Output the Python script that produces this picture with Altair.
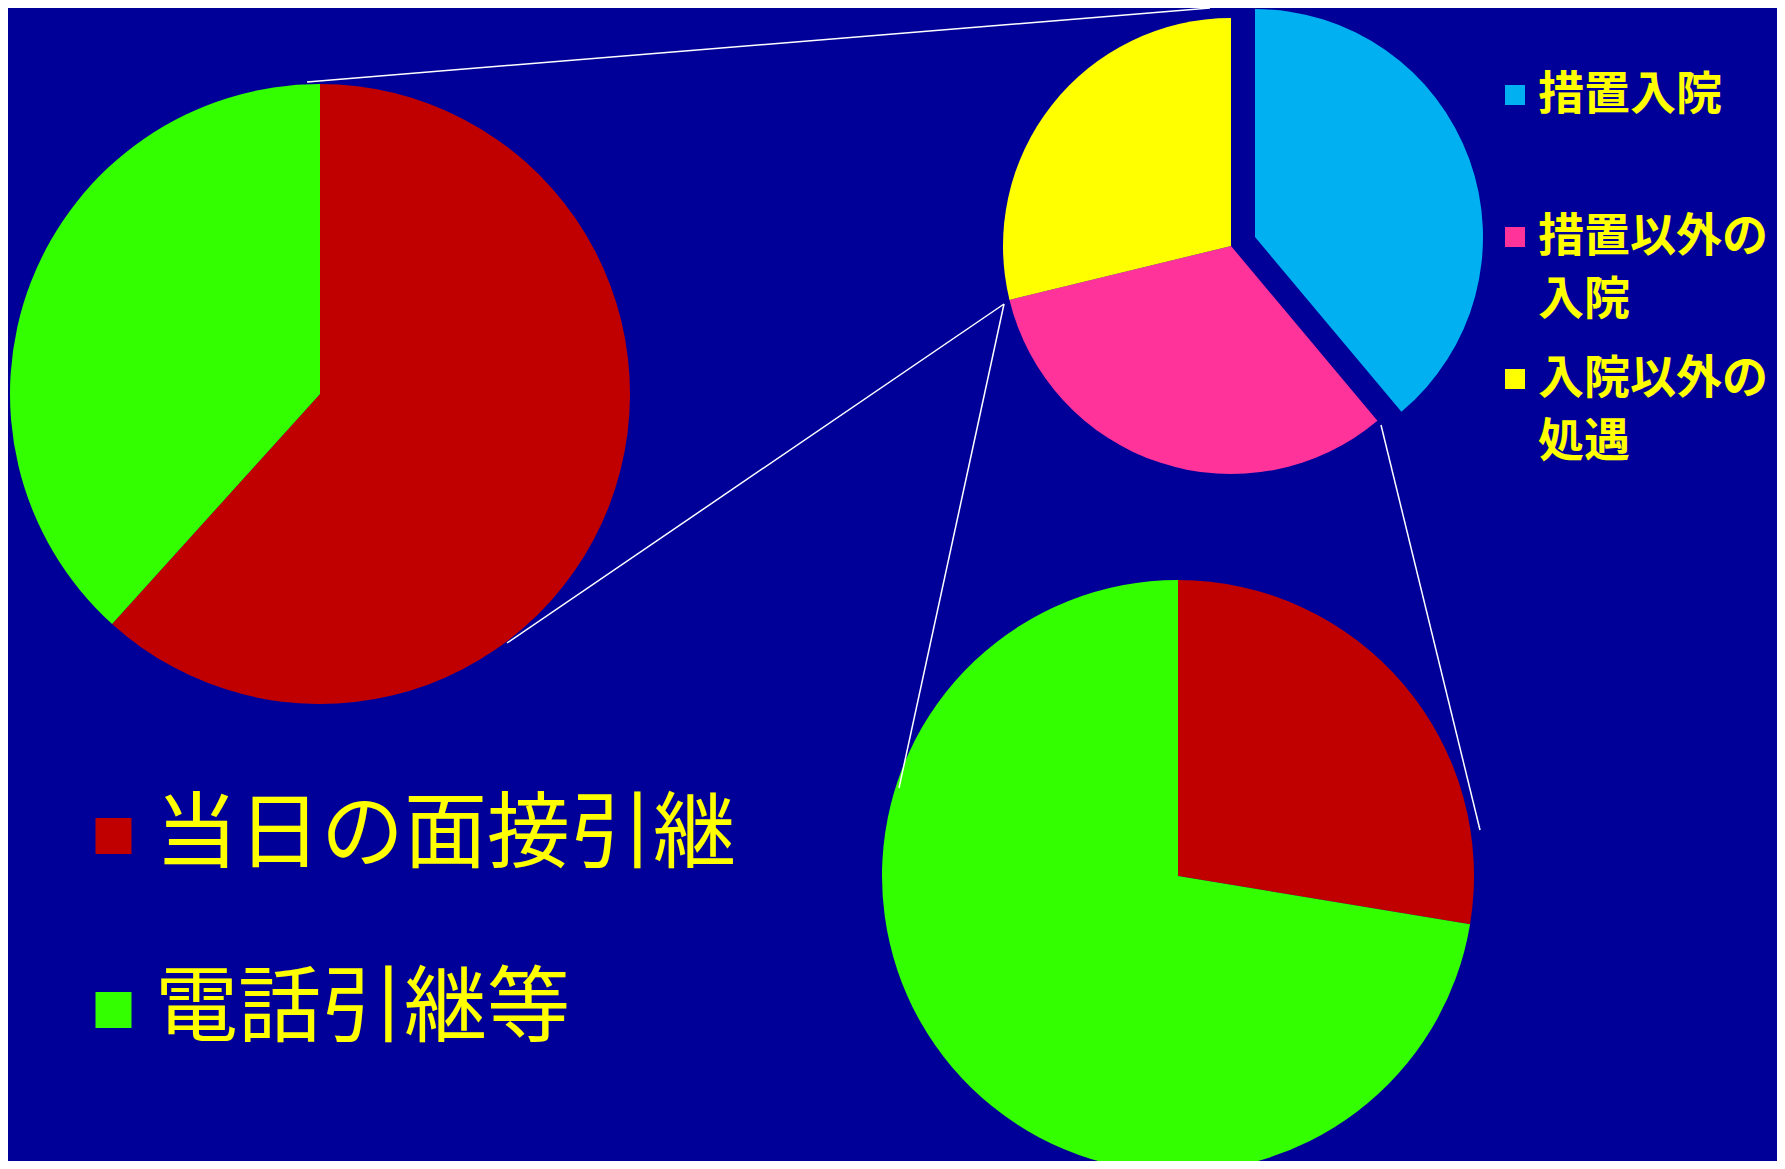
import altair as alt
import pandas as pd

# ---- data (shares in %) ----
# top pie: outcome of the cases
outcome_cats = ['措置入院', '措置以外の入院', '入院以外の処遇']
outcome_share = [38.9, 32.3, 28.8]
outcome_colors = ['#00B0F0', '#FF3399', '#FFFF00']

# handover type (left and bottom pies)
handover_cats = ['当日の面接引継', '電話引継等']
handover_colors = ['#C00000', '#33FF00']
# left pie: breakdown of 入院以外の処遇
nonadmit_share = [61.7, 38.3]
# bottom pie: breakdown of 措置以外の入院
voluntary_share = [27.6, 72.4]

# ---- layout ----
W, H = 1769, 1153
BG = '#000099'
TEXT = '#FFFF00'
FONT = 'Noto Sans CJK JP'

LEFT_C, LEFT_R = (312, 386), 310
TOP_C, TOP_R = (1223, 238), 228
TOP_EXPLODE = (24, -9)
BOT_C, BOT_R = (1170, 868), 296
CONNECTORS = [((299, 74), (1202, 0)), ((499, 635), (996, 296)),
              ((996, 296), (891, 780)), ((1373, 417), (1472, 822))]


def pie_frame(cats, vals):
    return pd.DataFrame({'cat': cats, 'v': vals, 'idx': list(range(len(cats)))})


def with_angles(chart):
    return (chart.transform_joinaggregate(total='sum(v)')
            .transform_window(cum='sum(v)', sort=[alt.SortField('idx')])
            .transform_calculate(t0='(datum.cum - datum.v) / datum.total',
                                 t1='datum.cum / datum.total'))


theta = alt.Theta('t0:Q', scale=alt.Scale(domain=[0, 1]))
theta2 = alt.Theta2('t1:Q')

handover_color = alt.Color(
    'cat:N',
    scale=alt.Scale(domain=handover_cats, range=handover_colors),
    legend=alt.Legend(title=None, orient='none', legendX=64, legendY=786.5,
                      direction='vertical', columns=1,
                      symbolType='square', symbolSize=1296, symbolStrokeWidth=0,
                      symbolOpacity=1, labelFontSize=83, labelColor=TEXT,
                      labelFont=FONT, labelFontWeight='normal', labelOffset=0,
                      rowPadding=90, padding=0, labelLimit=2000))

outcome_fill = alt.Fill(
    'cat:N',
    scale=alt.Scale(domain=outcome_cats, range=outcome_colors),
    legend=alt.Legend(title=None, orient='none', legendX=1484, legendY=64,
                      direction='vertical', columns=1,
                      symbolType='square', symbolSize=400, symbolStrokeWidth=0,
                      symbolOpacity=1, labelFontSize=46, labelColor=TEXT,
                      labelFont=FONT, labelFontWeight='bold', labelOffset=0,
                      rowPadding=33, padding=0, labelLimit=2000,
                      labelExpr="length(datum.label) > 4 ? [substring(datum.label, 0, 5), substring(datum.label, 5)] : [datum.label, '']"))

left_pie = with_angles(alt.Chart(pie_frame(handover_cats, nonadmit_share))).mark_arc().encode(
    theta=theta, theta2=theta2, color=handover_color,
    x=alt.value(LEFT_C[0]), y=alt.value(LEFT_C[1]), radius=alt.value(LEFT_R))

bottom_pie = with_angles(alt.Chart(pie_frame(handover_cats, voluntary_share))).mark_arc().encode(
    theta=theta, theta2=theta2, color=handover_color,
    x=alt.value(BOT_C[0]), y=alt.value(BOT_C[1]), radius=alt.value(BOT_R))

top_main = with_angles(alt.Chart(pie_frame(outcome_cats, outcome_share))).transform_filter(
    alt.datum.cat != outcome_cats[0]).mark_arc().encode(
    theta=theta, theta2=theta2, fill=outcome_fill,
    x=alt.value(TOP_C[0]), y=alt.value(TOP_C[1]), radius=alt.value(TOP_R))

top_exploded = with_angles(alt.Chart(pie_frame(outcome_cats, outcome_share))).transform_filter(
    alt.datum.cat == outcome_cats[0]).mark_arc().encode(
    theta=theta, theta2=theta2, fill=outcome_fill,
    x=alt.value(TOP_C[0] + TOP_EXPLODE[0]), y=alt.value(TOP_C[1] + TOP_EXPLODE[1]),
    radius=alt.value(TOP_R))

lines = []
for (x1, y1), (x2, y2) in CONNECTORS:
    lines.append(alt.Chart(pd.DataFrame({'k': [0]})).mark_rule(color='white', strokeWidth=1.5).encode(
        x=alt.value(x1), y=alt.value(y1), x2=alt.value(x2), y2=alt.value(y2)))

chart = alt.layer(left_pie, bottom_pie, top_main, top_exploded, *lines).properties(
    width=W, height=H, padding=0,
    autosize=alt.AutoSizeParams(type='none'),
    background=BG,
).configure(style={'guide-label': {'lineHeight': 63}}).configure_view(stroke=None)

chart.save("out.html", embed_options={"renderer": "svg", "actions": False})
